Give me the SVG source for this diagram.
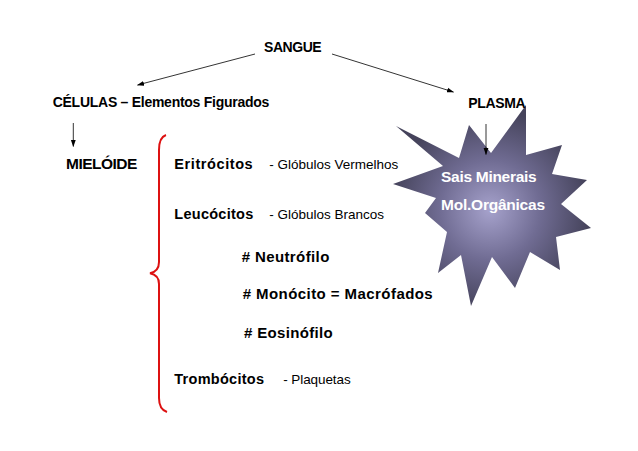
<svg xmlns="http://www.w3.org/2000/svg" width="638" height="451" viewBox="0 0 638 451">
<style>
.b{font-family:"Liberation Sans",Arial,sans-serif;font-weight:bold;fill:#000;font-size:14.5px}
.r{font-family:"Liberation Sans",Arial,sans-serif;fill:#000;font-size:13.5px}
.w{font-family:"Liberation Sans",Arial,sans-serif;font-weight:bold;fill:#fff;font-size:15.5px}
.ln{stroke:#000;stroke-width:0.8;fill:none}
</style>
<defs>
<marker id="ah" markerWidth="7" markerHeight="6" refX="6.5" refY="3" orient="auto" markerUnits="userSpaceOnUse">
<path d="M0,0.6 L7,3 L0,5.4 Z" fill="#000"/>
</marker>
<radialGradient id="sg" gradientUnits="userSpaceOnUse" cx="490" cy="210" r="100">
<stop offset="0" stop-color="#a6a2cc"/>
<stop offset="0.5" stop-color="#706c93"/>
<stop offset="1" stop-color="#45435b"/>
</radialGradient>
</defs>
<rect width="638" height="451" fill="#fff"/>
<g id="star">
<polygon points="526,105 526,155 562,145 552,174 587,180 561,204 591,228 556,237 560,270 530,252 515,288 492,257 471,306 461,255 438,273 447,232 425,213 436,198 393,184 443,166 396,126 459,158 469,125 491,153" fill="url(#sg)"/>
</g>
<g id="sangue"><text class="b" x="264" y="51.7" style="font-size:14px" textLength="57.7">SANGUE</text></g>
<g id="celulas"><text class="b" x="52.7" y="107.3" style="font-size:14px" textLength="216.6">CÉLULAS – Elementos Figurados</text></g>
<g id="plasma"><text class="b" x="468.3" y="107.7" style="font-size:14px" textLength="57.4">PLASMA</text></g>
<g id="mieloide"><text class="b" x="66" y="169.3" style="font-size:15.5px" textLength="71.3">MIELÓIDE</text></g>
<g id="eritrocitos">
<text class="b" x="174.3" y="169" textLength="78.4">Eritrócitos</text>
<text class="r" x="269.3" y="169" textLength="129">- Glóbulos Vermelhos</text>
</g>
<g id="leucocitos">
<text class="b" x="174.3" y="219" textLength="79">Leucócitos</text>
<text class="r" x="269.3" y="219" textLength="114.7">- Glóbulos Brancos</text>
</g>
<g id="neutrofilo"><text class="b" x="241.7" y="261.7" style="font-size:15px" textLength="87.6"># Neutrófilo</text></g>
<g id="monocito"><text class="b" x="242.7" y="299" style="font-size:15px" textLength="190"># Monócito = Macrófados</text></g>
<g id="eosinofilo"><text class="b" x="244" y="338.3" style="font-size:15px" textLength="88.7"># Eosinófilo</text></g>
<g id="trombocitos">
<text class="b" x="174.3" y="384.3" textLength="89.7">Trombócitos</text>
<text class="r" x="283.3" y="383.8" textLength="67.4">- Plaquetas</text>
</g>
<g id="star-text">
<text class="w" x="441" y="182.3" textLength="95.7">Sais Minerais</text>
<text class="w" x="441" y="210" textLength="104">Mol.Orgânicas</text>
</g>
<g id="brace">
<path d="M166,135 C160,137 159,143 159,150 L159,262 C159,268 156,272 150,273.3 C156,274.5 159,278 159,284 L159,398 C159,405 161,410 167,412" fill="none" stroke="#dd1111" stroke-width="2"/>
</g>
<g id="connectors">
<line class="ln" x1="255" y1="54" x2="137.5" y2="85" marker-end="url(#ah)"/>
<line class="ln" x1="332" y1="54" x2="453.5" y2="92" marker-end="url(#ah)"/>
<line class="ln" x1="73.3" y1="123" x2="73.3" y2="146.5" marker-end="url(#ah)"/>
<line class="ln" x1="486" y1="124" x2="486" y2="154.5" marker-end="url(#ah)"/>
</g>
</svg>
